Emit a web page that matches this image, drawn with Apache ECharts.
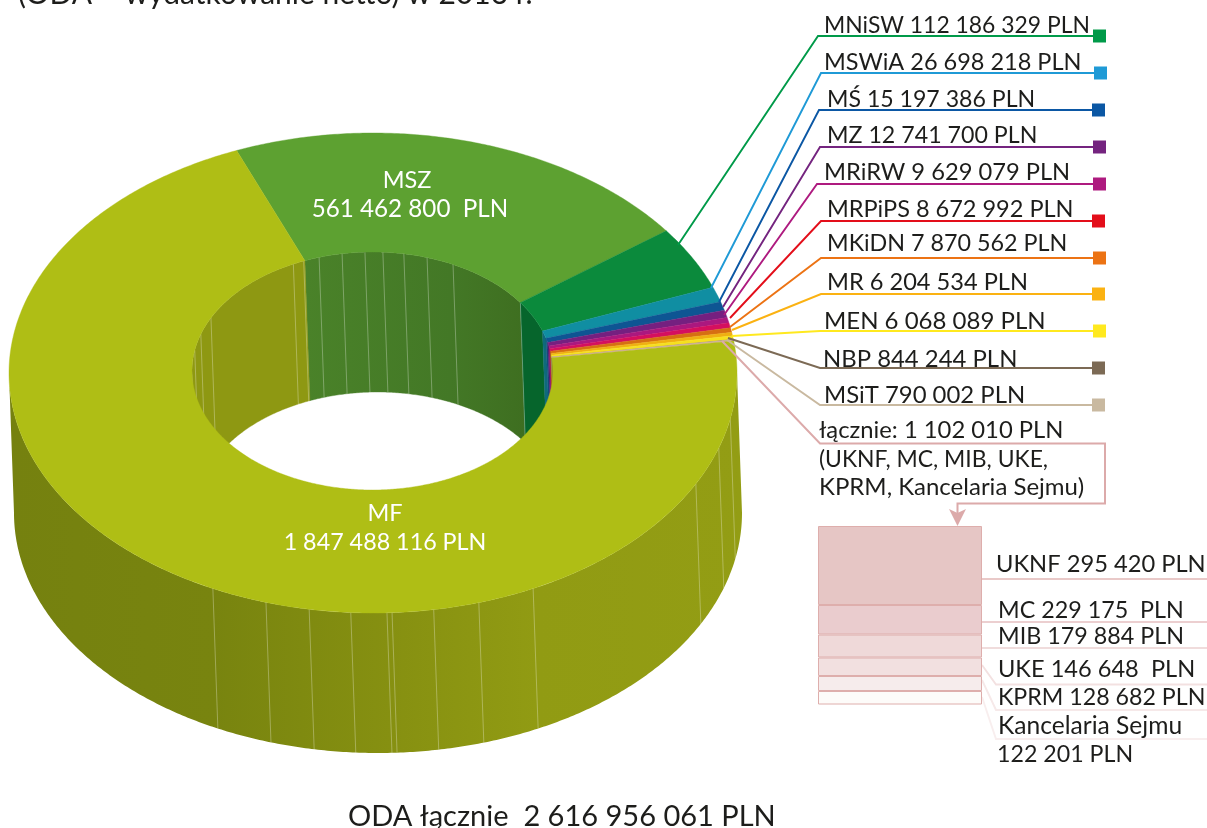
<!DOCTYPE html>
<html>
<head>
<meta charset="utf-8">
<title>ODA 2016</title>
<style>
  html, body { margin: 0; padding: 0; background: #fff; }
  #chart-container { width: 1207px; height: 828px; }
</style>
<script src="https://cdn.jsdelivr.net/npm/echarts@6/dist/echarts.min.js"></script>
</head>
<body>
<div id="chart-container"></div>
<script>
// ring data, clockwise from the MF / MSZ border
const ministries = ['MSZ', 'MNiSW', 'MSWiA', 'MŚ', 'MZ', 'MRiRW', 'MRPiPS', 'MKiDN', 'MR', 'MEN', 'NBP', 'MSiT', 'łącznie', 'MF'];
const amounts = [561462800, 112186329, 26698218, 15197386, 12741700, 9629079, 8672992, 7870562, 6204534, 6068089, 844244, 790002, 1102010, 1847488116];
const topColors = ['#5da131', '#0b8a3c', '#108ea2', '#0e5593', '#752080', '#ab187f', '#d50f5f', '#d66f12', '#efb011', '#f6e01e', '#a8946f', '#c8b89c', '#dcaaaa', '#afbe15'];
const innerColors = ['#447a26', '#06652c', '#0e6a7c', '#10507c', '#4f1b72', '#8a1570', '#a8124a', '#a8560f', '#b88a10', '#c0ad18', '#7b6a55', '#978a75', '#a88585', '#8e9812'];

// small boxes on the right
const legendTexts = ['MNiSW 112 186 329 PLN', 'MSWiA 26 698 218 PLN', 'MŚ 15 197 386 PLN', 'MZ 12 741 700 PLN', 'MRiRW 9 629 079 PLN', 'MRPiPS 8 672 992 PLN', 'MKiDN 7 870 562 PLN', 'MR 6 204 534 PLN', 'MEN 6 068 089 PLN', 'NBP 844 244 PLN', 'MSiT 790 002 PLN'];
const legendColors = ['#009a49', '#1f9ad6', '#0b57a4', '#74247f', '#ae1a7f', '#e30e1a', '#ec7314', '#fbb212', '#ffe91f', '#7c6a55', '#c9b9a0'];

// breakdown of the 1 102 010 PLN group
const detailNames = ['UKNF', 'MC', 'MIB', 'UKE', 'KPRM', 'Kancelaria Sejmu'];
const detailBands = [79, 29.5, 23, 18.5, 15, 13.5];
const detailColors = ['#e6c6c5', '#eaccce', '#efd9d9', '#f2e0e0', '#f6ecec', '#fdfbf9'];
const detailLines = ['#e9c9c8', '#eccfd0', '#f0dcdc', '#f3e1e1', '#f6e9e9', '#f8eeee'];

// seams of the 3d render, degrees clockwise from the top
const outerSeams = [206.1, 197.1, 190.1, 183.5, 177.8, 177, 170.4, 163.1, 153.9, 117.5, 108.2, 101];
const innerSeams = [-80, -72, -63.5, -26, -22.4, -17.2, -9.7, -2.4, 3.3, 10, 17.6, 26.5, 55];

// layout
const startAngle = -22;
const outerBend = 1.6;
const innerBend = 0.3;
const outer = { cx: 373, cy: 373, rx: 364, ry: 240 };
const inner = { cx: 372.5, cy: 371, rx: 180.5, ry: 119 };
const drop = { x: 5, y: 140 };
const legendX = [824, 824, 827, 827, 824, 827, 827, 827, 824, 823, 824];
const legendBase = [32, 69, 106, 142, 179, 216, 250, 289, 328, 366, 402];
const legendSizes = [22.9, 23.5, 23.1, 23.2, 23.7, 23.5, 23.3, 23.6, 24, 23.9, 23.9];
const leaderFrom = [[678, 245], [711, 288], [719, 302], [723, 307], [724, 315], [730, 318], [730, 327], [732, 330], [732, 336], [728, 338], [727, 340]];
const leaderElbow = [[818, 36], [821, 73], [819, 110], [820, 147], [817, 184], [821, 221], [821, 258], [821, 294], [820, 331], [820, 368], [820, 405]];
const squareLeft = [1093, 1094, 1092, 1093, 1093, 1092, 1093, 1092, 1093, 1092, 1092];
const detailLeader = [[[982, 579], [982, 579]], [[982, 622], [982, 622]], [[982, 648], [982, 648]], [[982, 665], [996, 684.5]], [[982, 680], [996, 710]], [[982, 697], [996, 739]]];

const total = amounts.reduce(function (a, b) { return a + b; }, 0);

function pointOn(e, deg, dx, dy) {
  const r = deg * Math.PI / 180;
  return [e.cx + e.rx * Math.sin(r) + (dx || 0), e.cy - e.ry * Math.cos(r) + (dy || 0)];
}

function arc(e, from, to, dx, dy) {
  const pts = [];
  const n = Math.max(2, Math.ceil(Math.abs(to - from) * 2));
  for (let i = 0; i <= n; i++) {
    pts.push(pointOn(e, from + (to - from) * i / n, dx, dy));
  }
  return pts;
}

// the picture is in perspective, so the far side of the ring is squeezed a little
function bend(deg, amount) {
  return deg - amount * Math.sin((deg - startAngle) * Math.PI / 180);
}

// start and end angle of every slice, on the outer and on the inner edge
const spans = [];
const innerSpans = [];
let running = startAngle;
amounts.forEach(function (v) {
  const sweep = v / total * 360;
  spans.push([bend(running, outerBend), bend(running + sweep, outerBend)]);
  innerSpans.push([bend(running, innerBend), bend(running + sweep, innerBend)]);
  running += sweep;
});

function toPixels(api, pts) {
  return pts.map(function (p) { return api.coord(p); });
}

function outerWallItem(params, api) {
  const pts = arc(outer, 90, 270).concat(arc(outer, 270, 90, drop.x, drop.y));
  return {
    type: 'polygon',
    shape: { points: toPixels(api, pts) },
    style: {
      fill: new echarts.graphic.LinearGradient(9, 0, 741, 0, [
        { offset: 0, color: '#75810f' },
        { offset: 0.28, color: '#78840f' },
        { offset: 0.52, color: '#869011' },
        { offset: 0.72, color: '#919b13' },
        { offset: 1, color: '#939d14' }
      ], true)
    }
  };
}

function innerWallItem(params, api) {
  const i = params.dataIndex;
  // only the far half of the hole can be seen
  const last = i === innerSpans.length - 1;
  const ranges = last ? [[innerSpans[i][0], 90], [270, innerSpans[i][1]]] : [innerSpans[i]];
  const children = [];
  ranges.forEach(function (r) {
    const pts = arc(inner, r[0], r[1]).concat(arc(inner, r[1], r[0], drop.x, drop.y));
    let fill = innerColors[i];
    if (i === 0) {
      fill = new echarts.graphic.LinearGradient(305, 0, 528, 0, [
        { offset: 0, color: '#4a8229' },
        { offset: 0.65, color: '#437826' },
        { offset: 1, color: '#3e6e20' }
      ], true);
    }
    children.push({
      type: 'polygon',
      shape: { points: toPixels(api, pts) },
      style: { fill: fill, stroke: fill, lineWidth: 0.4 }
    });
  });
  return { type: 'group', children: children };
}

function sliceItem(params, api) {
  const i = params.dataIndex;
  const pts = arc(outer, spans[i][0], spans[i][1]).concat(arc(inner, innerSpans[i][1], innerSpans[i][0]));
  return {
    type: 'polygon',
    shape: { points: toPixels(api, pts) },
    style: { fill: topColors[i], stroke: topColors[i], lineWidth: 0.4 }
  };
}

const seamRows = outerSeams.map(function (d) { return { wall: 'outer', deg: d }; })
  .concat(innerSeams.map(function (d) { return { wall: 'inner', deg: d }; }));

function seamItem(params, api) {
  const s = seamRows[params.dataIndex];
  const e = s.wall === 'outer' ? outer : inner;
  const a = api.coord(pointOn(e, s.deg));
  const b = api.coord(pointOn(e, s.deg, drop.x, drop.y));
  return {
    type: 'line',
    shape: { x1: a[0], y1: a[1], x2: b[0], y2: b[1] },
    style: { stroke: 'rgba(255,255,255,0.33)', lineWidth: 0.9 }
  };
}

function leaderItem(params, api) {
  const i = params.dataIndex;
  const sq = squareLeft[i];
  const y = leaderElbow[i][1];
  return {
    type: 'group',
    children: [
      {
        type: 'polyline',
        shape: { points: toPixels(api, [leaderFrom[i], leaderElbow[i], [sq + 4, y]]) },
        style: { stroke: legendColors[i], lineWidth: 1.9, fill: null }
      },
      {
        type: 'rect',
        shape: { x: sq, y: y - 6.5, width: 13, height: 13 },
        style: { fill: legendColors[i] }
      }
    ]
  };
}

function detailLeaderItem(params, api) {
  const i = params.dataIndex;
  const p = detailLeader[i];
  return {
    type: 'polyline',
    shape: { points: toPixels(api, [p[0], p[1], [1207, p[1][1]]]) },
    style: { stroke: detailLines[i], lineWidth: 1.9, fill: null }
  };
}

function groupLeaderItem(params, api) {
  return {
    type: 'group',
    children: [
      {
        type: 'polyline',
        shape: { points: toPixels(api, [[722, 341], [820, 443.5], [1105, 443.5], [1105, 503.5], [957.5, 503.5], [957.5, 516]]) },
        style: { stroke: '#dcaaaa', lineWidth: 2, fill: null }
      },
      {
        type: 'polygon',
        shape: { points: toPixels(api, [[949, 509], [957.5, 513], [966, 509], [957.5, 526]]) },
        style: { fill: '#dcaaaa' }
      }
    ]
  };
}

function textEl(text, x, base, size, opts) {
  opts = opts || {};
  return {
    type: 'text',
    z: 50,
    style: {
      text: text,
      x: x,
      y: base - size * 0.3,
      font: size + 'px Lato',
      fill: opts.fill || '#1d1d1b',
      align: opts.align || 'left',
      verticalAlign: 'middle'
    }
  };
}

const texts = legendTexts.map(function (t, i) { return textEl(t, legendX[i], legendBase[i], legendSizes[i]); });
texts.push(
  textEl('łącznie: 1 102 010 PLN', 819, 437, 23.8),
  textEl('(UKNF, MC, MIB, UKE,', 819, 466, 22.9),
  textEl('KPRM, Kancelaria Sejmu)', 819, 494, 24),
  textEl('UKNF 295 420 PLN', 996, 571, 23.7),
  textEl('MC 229 175  PLN', 998, 617, 23.3),
  textEl('MIB 179 884 PLN', 998, 643, 23.3),
  textEl('UKE 146 648  PLN', 998, 676, 23.6),
  textEl('KPRM 128 682 PLN', 998, 704, 23.2),
  textEl('Kancelaria Sejmu', 998, 733, 24.6),
  textEl('122 201 PLN', 997, 761, 23.2),
  textEl('MSZ', 407, 187, 23.5, { fill: '#fff', align: 'center' }),
  textEl('561 462 800  PLN', 410, 216, 24.2, { fill: '#fff', align: 'center' }),
  textEl('MF', 385, 520, 23.5, { fill: '#fff', align: 'center' }),
  textEl('1 847 488 116 PLN', 385, 549, 23.3, { fill: '#fff', align: 'center' }),
  textEl('ODA łącznie  2 616 956 061 PLN', 348, 825, 29),
  textEl('(ODA – wydatkowanie netto) w 2016 r.', 18, 3, 30)
);

function seriesOf(name, items, render, z) {
  return {
    name: name,
    type: 'custom',
    xAxisIndex: 0,
    yAxisIndex: 0,
    z: z,
    silent: true,
    clip: false,
    animation: false,
    renderItem: render,
    data: items
  };
}

var dom = document.getElementById('chart-container');
var myChart = echarts.init(dom, null, { renderer: 'canvas' });

var option = {
  animation: false,
  grid: [
    { left: 0, top: 0, width: 1207, height: 828 },
    { left: 818, top: 526, width: 164, height: 178 }
  ],
  xAxis: [
    { type: 'value', min: 0, max: 1207, show: false },
    { type: 'category', gridIndex: 1, data: ['1 102 010 PLN'], show: false }
  ],
  yAxis: [
    { type: 'value', min: 0, max: 828, inverse: true, show: false },
    { type: 'value', gridIndex: 1, min: 0, max: 178, inverse: true, show: false }
  ],
  series: [
    seriesOf('outerWall', [total], outerWallItem, 1),
    seriesOf('innerWall', amounts, innerWallItem, 2),
    seriesOf('seams', seamRows.map(function (s) { return s.deg; }), seamItem, 3),
    seriesOf('slices', amounts, sliceItem, 4),
    seriesOf('leaders', legendTexts, leaderItem, 5),
    seriesOf('groupLeader', [amounts[12]], groupLeaderItem, 5),
    seriesOf('detailLeaders', detailNames, detailLeaderItem, 5)
  ].concat(detailNames.map(function (name, i) {
    return {
      name: name,
      type: 'bar',
      xAxisIndex: 1,
      yAxisIndex: 1,
      stack: 'detail',
      barWidth: '100%',
      z: 6,
      silent: true,
      animation: false,
      itemStyle: { color: detailColors[i], borderColor: '#deaeac', borderWidth: 1 },
      data: [detailBands[i]]
    };
  })),
  graphic: { elements: texts }
};

myChart.setOption(option);
window.addEventListener('resize', myChart.resize);
</script>
</body>
</html>
